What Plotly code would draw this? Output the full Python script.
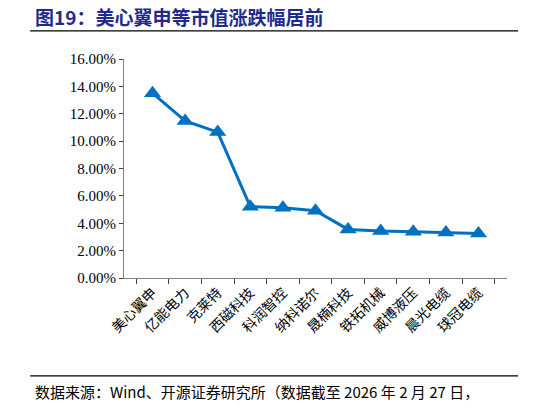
import plotly.graph_objects as go

# Market-cap change leaders (as of 2026-02-27)
companies = ['美心翼申', '亿能电力', '克莱特', '西磁科技', '科润智控', '纳科诺尔',
             '晟楠科技', '铁拓机械', '威博液压', '晨光电缆', '球冠电缆']
pct_change = [0.1350, 0.1147, 0.1066, 0.0521, 0.0514, 0.0492,
              0.0355, 0.0343, 0.0338, 0.0333, 0.0326]
y_ticks = [0, 0.02, 0.04, 0.06, 0.08, 0.10, 0.12, 0.14, 0.16]

TITLE = '图19：美心翼申等市值涨跌幅居前'
SOURCE = '数据来源：Wind、开源证券研究所（数据截至 2026 年 2 月 27 日，'

BLUE = '#0070C0'
CJK = 'Noto Sans CJK SC'
SERIF = 'Liberation Serif'

fig = go.Figure()
fig.add_trace(go.Scatter(
    x=companies, y=pct_change,
    mode='lines+markers',
    line=dict(color=BLUE, width=3),
    marker=dict(symbol='triangle-up', size=15, color=BLUE),
    hoverinfo='x+y',
))

# plot area: x 124..507, y 59..278 px
fig.update_layout(
    width=546, height=406,
    margin=dict(l=124, r=39, t=59, b=128),
    paper_bgcolor='white', plot_bgcolor='white',
    showlegend=False,
    xaxis=dict(
        type='category', automargin=False,
        showline=True, linecolor='#808080', linewidth=1.2,
        ticks='outside', tickson='boundaries', ticklen=5, tickcolor='#404040',
        showgrid=False,
        tickangle=-45,
        tickfont=dict(family=CJK, size=14, color='black'),
    ),
    yaxis=dict(
        range=[0, 0.16], automargin=False,
        tickvals=y_ticks, tickformat='.2%',
        showline=True, linecolor='#808080', linewidth=1.2,
        ticks='outside', ticklen=4, tickcolor='#404040',
        showgrid=False, zeroline=False,
        tickfont=dict(family=SERIF, size=15, color='black'),
    ),
    annotations=[
        dict(text='<b>' + TITLE + '</b>', xref='paper', yref='paper',
             x=-0.238, y=1.192, xanchor='left', yanchor='middle',
             showarrow=False,
             font=dict(family=CJK, size=19, color='#1F2A8A')),
        dict(text=SOURCE, xref='paper', yref='paper',
             x=-0.238, y=-0.516, xanchor='left', yanchor='middle',
             showarrow=False,
             font=dict(family=CJK, size=15, color='black')),
    ],
    shapes=[
        dict(type='line', xref='paper', yref='paper',
             x0=-0.245, x1=1.029, y0=1.128, y1=1.128,
             line=dict(color='black', width=1.2)),
        dict(type='line', xref='paper', yref='paper',
             x0=-0.245, x1=1.029, y0=-0.447, y1=-0.447,
             line=dict(color='black', width=1.2)),
    ],
)

# drop the browser's default body margin so the figure sits at the window corner
fig.write_html('out.html', config={'displayModeBar': False},
               post_script="document.body.style.margin='0';")
